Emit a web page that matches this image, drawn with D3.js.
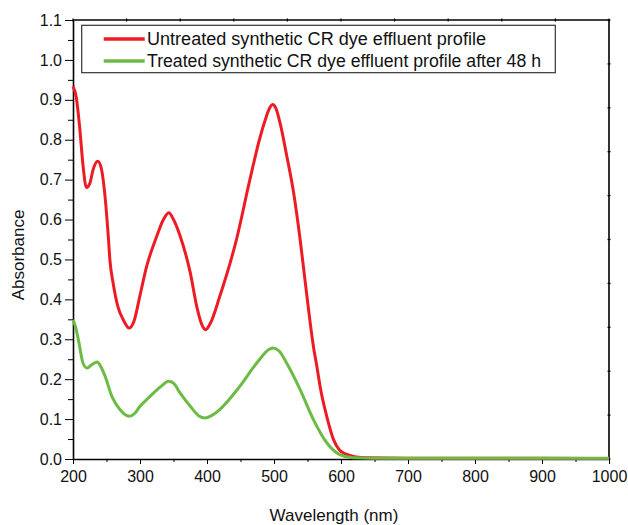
<!DOCTYPE html>
<html>
<head>
<meta charset="utf-8">
<script src="https://cdn.jsdelivr.net/npm/d3@7"></script>
<style>
  body { margin: 0; background: #fff; }
  svg text { font-family: "Liberation Sans", Arial, sans-serif; fill: #111; }
</style>
</head>
<body>
<div id="chart"></div>
<script>
  // data
  var untreatedWl = [200, 205, 210, 215, 220, 225, 230, 237, 242, 245, 250, 253, 255, 260, 267, 275, 284, 291, 300, 310, 325, 335, 343, 350, 360, 375, 385, 392, 398, 405, 419, 444, 464, 479, 487, 492, 498, 503, 509, 519, 529, 539, 549, 559, 564, 569, 579, 589, 598, 608, 620, 640, 700, 800, 900, 1000];
  var untreatedAbs = [0.934, 0.905, 0.83, 0.735, 0.68, 0.69, 0.725, 0.746, 0.73, 0.70, 0.617, 0.55, 0.50, 0.44, 0.382, 0.349, 0.328, 0.345, 0.41, 0.483, 0.558, 0.60, 0.617, 0.60, 0.558, 0.467, 0.38, 0.338, 0.324, 0.34, 0.407, 0.55, 0.70, 0.805, 0.85, 0.874, 0.888, 0.878, 0.842, 0.76, 0.67, 0.55, 0.41, 0.28, 0.232, 0.18, 0.105, 0.048, 0.022, 0.012, 0.006, 0.003, 0.002, 0.002, 0.002, 0.001];

  var treatedWl = [200, 204, 208, 215, 221, 228, 236, 242, 248, 258, 270, 284, 292, 300, 315, 330, 343, 350, 360, 375, 388, 397, 408, 419, 449, 474, 494, 499, 508, 519, 539, 559, 579, 598, 618, 650, 700, 800, 900, 1000];
  var treatedAbs = [0.349, 0.33, 0.299, 0.24, 0.228, 0.236, 0.243, 0.23, 0.207, 0.157, 0.124, 0.107, 0.114, 0.132, 0.157, 0.18, 0.195, 0.19, 0.165, 0.132, 0.108, 0.103, 0.11, 0.124, 0.182, 0.24, 0.276, 0.278, 0.27, 0.24, 0.174, 0.098, 0.040, 0.011, 0.003, 0.002, 0.002, 0.002, 0.002, 0.002];

  var seriesNames = ["Untreated synthetic CR dye effluent profile", "Treated synthetic CR dye effluent profile after 48 h"];
  var seriesColors = ["#ed1c24", "#6cbb45"];
  var xTicks = [200, 300, 400, 500, 600, 700, 800, 900, 1000];
  var yTicks = [0.0, 0.1, 0.2, 0.3, 0.4, 0.5, 0.6, 0.7, 0.8, 0.9, 1.0, 1.1];

  var W = 628, H = 525;
  var margin = { top: 20, right: 19, bottom: 66, left: 73 };
  var width = W - margin.left - margin.right;
  var height = H - margin.top - margin.bottom;

  var svg = d3.select("#chart")
    .append("svg")
    .attr("width", W)
    .attr("height", H)
    .append("g")
    .attr("transform", "translate(" + margin.left + "," + margin.top + ")");

  var x = d3.scaleLinear().domain([200, 1000]).range([0, width]);
  var y = d3.scaleLinear().domain([0, 1.1]).range([height, 0]);

  // minor ticks
  svg.append("g")
    .attr("transform", "translate(0," + height + ")")
    .call(d3.axisBottom(x).tickValues(d3.range(250, 1000, 100)).tickSize(3).tickFormat(""))
    .call(function (g) { g.select(".domain").remove(); });
  svg.append("g")
    .call(d3.axisLeft(y).tickValues(d3.range(0.05, 1.1, 0.1)).tickSize(5).tickFormat(""))
    .call(function (g) { g.select(".domain").remove(); });

  // X axis
  svg.append("g")
    .attr("transform", "translate(0," + height + ")")
    .call(d3.axisBottom(x).tickValues(xTicks).tickSize(5).tickSizeOuter(0).tickPadding(7).tickFormat(d3.format("d")))
    .call(function (g) {
      g.select(".domain").attr("stroke-width", 1.6);
      g.selectAll("text").style("font-size", "16px");
    });

  // Y axis
  svg.append("g")
    .call(d3.axisLeft(y).tickValues(yTicks).tickSize(8).tickSizeOuter(0).tickPadding(3).tickFormat(d3.format(".1f")))
    .call(function (g) {
      g.select(".domain").attr("stroke-width", 1.6);
      g.selectAll("text").style("font-size", "16px");
    });

  // top and right frame with tiny ticks
  var frameScale = d3.scaleLinear().domain([0, 10]);
  var topX = frameScale.copy().range([0, width]);
  var rightY = frameScale.copy().range([height, 0]);
  svg.append("line").attr("x1", 0).attr("x2", width).attr("y1", 0).attr("y2", 0)
    .attr("stroke", "#000").attr("stroke-width", 1.6);
  svg.append("line").attr("x1", width).attr("x2", width).attr("y1", 0).attr("y2", height)
    .attr("stroke", "#000").attr("stroke-width", 1.6);
  svg.selectAll(".topTick").data(d3.range(0, 11)).enter().append("line")
    .attr("x1", function (d) { return topX(d); }).attr("x2", function (d) { return topX(d); })
    .attr("y1", -1.5).attr("y2", 1.5).attr("stroke", "#000").attr("stroke-width", 1.2);
  svg.selectAll(".rightTick").data(d3.range(0, 11)).enter().append("line")
    .attr("y1", function (d) { return rightY(d); }).attr("y2", function (d) { return rightY(d); })
    .attr("x1", width - 1.5).attr("x2", width + 1.5).attr("stroke", "#000").attr("stroke-width", 1.2);

  // lines
  var line = d3.line()
    .x(function (d) { return x(d[0]); })
    .y(function (d) { return y(d[1]); })
    .curve(d3.curveMonotoneX);

  var untreated = untreatedWl.map(function (w, i) { return [w, untreatedAbs[i]]; });
  var treated = treatedWl.map(function (w, i) { return [w, treatedAbs[i]]; });

  [untreated, treated].forEach(function (data, i) {
    svg.append("path")
      .datum(data)
      .attr("fill", "none")
      .attr("stroke", seriesColors[i])
      .attr("stroke-width", 3)
      .attr("stroke-linejoin", "round")
      .attr("d", line);
  });

  // axis titles
  svg.append("text")
    .attr("x", x(600) - 7)
    .attr("y", height + 62)
    .attr("text-anchor", "middle")
    .style("font-size", "17px")
    .text("Wavelength (nm)");

  svg.append("text")
    .attr("transform", "translate(" + (24 - margin.left) + "," + (255 - margin.top) + ")rotate(-90)")
    .attr("text-anchor", "middle")
    .style("font-size", "17px")
    .text("Absorbance");

  // legend
  var legend = svg.append("g").attr("transform", "translate(" + (81.7 - margin.left) + "," + (25.3 - margin.top) + ")");
  legend.append("rect")
    .attr("width", 473.6).attr("height", 47.4)
    .attr("fill", "#fff").attr("stroke", "#333").attr("stroke-width", 1.2);
  var legendWidths = [339, 394];
  seriesNames.forEach(function (name, i) {
    var cy = 13.7 + i * 22;
    legend.append("line")
      .attr("x1", 22).attr("x2", 63).attr("y1", cy).attr("y2", cy)
      .attr("stroke", seriesColors[i]).attr("stroke-width", 3.5);
    legend.append("text")
      .attr("x", 65.3).attr("y", cy + 6)
      .attr("textLength", legendWidths[i])
      .attr("lengthAdjust", "spacingAndGlyphs")
      .style("font-size", "17.5px")
      .text(name);
  });
</script>
</body>
</html>
